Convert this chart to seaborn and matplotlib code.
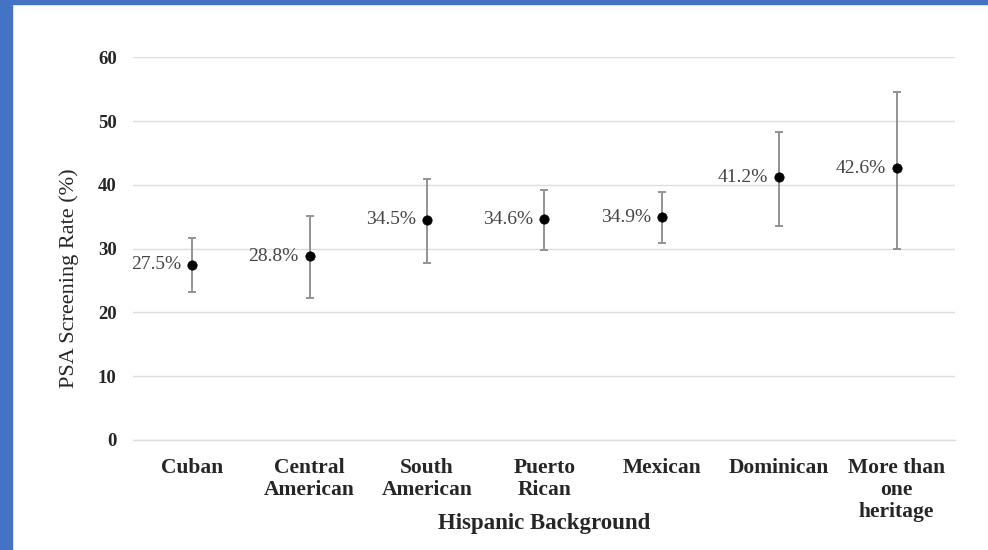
import numpy as np
import pandas as pd
import matplotlib.pyplot as plt
import seaborn as sns
from matplotlib.patches import Rectangle

# values
groups = ["Cuban", "Central\nAmerican", "South\nAmerican", "Puerto\nRican",
          "Mexican", "Dominican", "More than\none\nheritage"]
rate = [27.5, 28.8, 34.5, 34.6, 34.9, 41.2, 42.6]
ci_low = [23.2, 22.3, 27.7, 29.8, 30.8, 33.6, 30.0]
ci_high = [31.7, 35.1, 40.9, 39.2, 38.9, 48.2, 54.5]

df = pd.DataFrame({"group": groups, "rate": rate, "lo": ci_low, "hi": ci_high})

sns.set_style("whitegrid")
plt.rcParams["font.family"] = ["Liberation Serif", "DejaVu Serif"]

fig = plt.figure(figsize=(9.88, 5.5), dpi=100)
ax = fig.add_axes([0.135, 0.2, 0.832, 0.696])

# blue slide frame on left and top
fig.patches.append(Rectangle((0, 0), 0.012, 1, transform=fig.transFigure,
                             color="#4472C4", zorder=0))
fig.patches.append(Rectangle((0, 0.992), 1, 0.008, transform=fig.transFigure,
                             color="#4472C4", zorder=0))

xpos = np.arange(len(groups))
ax.errorbar(xpos, df["rate"], yerr=[df["rate"] - df["lo"], df["hi"] - df["rate"]],
            fmt="none", ecolor="#939393", elinewidth=1.4, capsize=3, capthick=1.4, zorder=2)
sns.scatterplot(data=df, x="group", y="rate", color="black", s=45,
                edgecolor="black", zorder=3, ax=ax)

for i, v in enumerate(rate):
    ax.annotate(f"{v}%", (i, v), xytext=(-8, 0), textcoords="offset points",
                ha="right", va="center", fontsize=14, color="#444444")

ax.set_xlim(-0.5, len(groups) - 0.5)
ax.set_ylim(0, 60)
ax.set_yticks(range(0, 61, 10))
ax.grid(axis="y", color="#dcdcdc", linewidth=1)
ax.grid(axis="x", visible=False)
ax.axhline(0, color="#dcdcdc", linewidth=1, clip_on=False, zorder=1)
for s in ax.spines.values():
    s.set_visible(False)
ax.tick_params(axis="both", length=0)
ax.tick_params(axis="y", pad=12, labelsize=13.5)
ax.tick_params(axis="x", pad=13, labelsize=15.5)
for lab in ax.get_yticklabels() + ax.get_xticklabels():
    lab.set_fontweight("bold")
    lab.set_linespacing(1.12)

ax.set_xlabel("Hispanic Background", fontsize=16.5, fontweight="bold")
ax.xaxis.set_label_coords(0.5, -0.19)
ax.set_ylabel("PSA Screening Rate (%)", fontsize=16)
ax.yaxis.set_label_coords(-0.066, 0.423)

fig.savefig("out.png", dpi=100)
